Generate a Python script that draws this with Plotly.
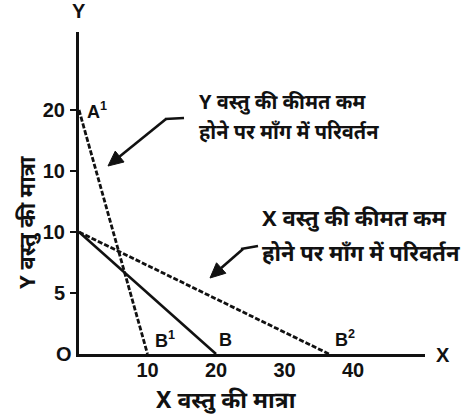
import plotly.graph_objects as go

# Budget lines: (x, y) end points in units of goods X and Y
line_a1_b1 = {"x": [0, 10], "y": [20, 0]}     # Y price falls: A1 -> B1
line_a_b = {"x": [0, 20], "y": [10, 0]}       # original budget line A -> B
line_a_b2 = {"x": [0, 36.5], "y": [10, 0]}    # X price falls: A -> B2

x_tick_vals = [10, 20, 30, 40]
x_tick_text = ["10", "20", "30", "40"]
y_tick_vals = [5, 10, 15, 20]
y_tick_text = ["5", "10", "10", "20"]

title_x = "X वस्तु की मात्रा"
title_y = "Y वस्तु की मात्रा"
note_y = ["Y वस्तु की कीमत कम", "होने पर माँग में परिवर्तन"]
note_x = ["X वस्तु की कीमत कम", "होने पर माँग में परिवर्तन"]

W, H = 470, 419
L, R, T, B = 79, 45, 32, 65
PW, PH = W - L - R, H - T - B

FONT = "Liberation Sans, Arial, Noto Sans, sans-serif"
HIND = "Noto Sans Devanagari, Lohit Devanagari, Mangal, Noto Sans, sans-serif"
INK = "#111111"


def px(x, y):
    """Pixel position in the page -> paper coordinates."""
    return (x - L) / PW, (H - B - y) / PH


fig = go.Figure()
fig.add_trace(go.Scatter(x=line_a1_b1["x"], y=line_a1_b1["y"], mode="lines",
                         line=dict(color=INK, width=2.8, dash="5px,2px")))
fig.add_trace(go.Scatter(x=line_a_b["x"], y=line_a_b["y"], mode="lines",
                         line=dict(color=INK, width=2.6)))
fig.add_trace(go.Scatter(x=line_a_b2["x"], y=line_a_b2["y"], mode="lines",
                         line=dict(color=INK, width=2.8, dash="5px,2px")))

ann = []
bold = dict(family=FONT, size=20, color=INK, weight="bold")

# axis letters and origin
for (xx, yy, t) in [(79, 11, "Y"), (443, 355, "X"), (64, 354, "O")]:
    xp, yp = px(xx, yy)
    ann.append(dict(x=xp, y=yp, xref="paper", yref="paper", text=t,
                    showarrow=False, font=bold, xanchor="center", yanchor="middle"))

# point labels next to the line ends
labels = [
    (line_a1_b1["x"][0], line_a1_b1["y"][0], "A<sup>1</sup>", 18, 0),
    (line_a1_b1["x"][1], line_a1_b1["y"][1], "B<sup>1</sup>", 17, 15),
    (line_a_b["x"][1], line_a_b["y"][1], "B", 9, 14),
    (line_a_b2["x"][1], line_a_b2["y"][1], "B<sup>2</sup>", 16, 16),
]
for (xx, yy, t, dx, dy) in labels:
    ann.append(dict(x=xx, y=yy, xref="x", yref="y", text=t,
                    showarrow=False,
                    font=dict(family=FONT, size=18, color=INK, weight="bold"),
                    xshift=dx, yshift=dy, xanchor="center", yanchor="middle"))

hind_font = lambda s: dict(family=HIND, size=s, color=INK, weight="bold")

# axis titles
xp, yp = px(226, 402)
ann.append(dict(x=xp, y=yp, xref="paper", yref="paper", text=title_x,
                showarrow=False, font=hind_font(23),
                xanchor="center", yanchor="middle"))
xp, yp = px(29, 222)
ann.append(dict(x=xp, y=yp, xref="paper", yref="paper", text=title_y,
                showarrow=False, textangle=-90, font=hind_font(22),
                xanchor="center", yanchor="middle"))

# callout texts, one annotation per line
for (x0, ys, lines, size) in [(197, (104, 133), note_y, 20),
                              (260, (220, 255), note_x, 22)]:
    for yy, t in zip(ys, lines):
        xp, yp = px(x0, yy)
        ann.append(dict(x=xp, y=yp, xref="paper", yref="paper", text=t,
                        showarrow=False, align="left", font=hind_font(size),
                        xanchor="left", yanchor="middle"))

shapes = []


def seg(a, b, w=2.6):
    x0, y0 = px(*a)
    x1, y1 = px(*b)
    shapes.append(dict(type="line", xref="paper", yref="paper", x0=x0, y0=y0,
                       x1=x1, y1=y1, line=dict(color=INK, width=w)))


def head(tip, tail, length=15, half=7):
    """Filled triangular arrow head pointing from tail to tip."""
    dx, dy = tip[0] - tail[0], tip[1] - tail[1]
    n = (dx * dx + dy * dy) ** 0.5
    ux, uy = dx / n, dy / n
    bx, by = tip[0] - ux * length, tip[1] - uy * length
    pts = [tip, (bx - uy * half, by + ux * half), (bx + uy * half, by - ux * half)]
    p = [px(*q) for q in pts]
    path = "M {} {} L {} {} L {} {} Z".format(p[0][0], p[0][1], p[1][0], p[1][1],
                                             p[2][0], p[2][1])
    shapes.append(dict(type="path", xref="paper", yref="paper", path=path,
                       fillcolor=INK, line=dict(color=INK, width=1)))
    return (bx, by)


# callout for the Y-price change
base = head((108, 166), (166, 119))
seg((166, 119), base)
seg((165, 119), (184, 118))

# callout for the X-price change
base = head((210, 278), (238, 253))
seg((243, 249), base)
seg((241, 249), (258, 246))

fig.update_layout(
    width=W, height=H, margin=dict(l=L, r=R, t=T, b=B),
    paper_bgcolor="white", plot_bgcolor="white", showlegend=False,
    annotations=ann, shapes=shapes,
    xaxis=dict(range=[0, PW / 6.85], showgrid=False, zeroline=False,
               showline=True, linecolor=INK, linewidth=3,
               tickvals=x_tick_vals, ticktext=x_tick_text,
               ticks="", tickfont=dict(family=FONT, size=20, color=INK, weight="bold"),
               ticklabelstandoff=-4),
    yaxis=dict(range=[0, PH / 12.2], showgrid=False, zeroline=False,
               showline=True, linecolor=INK, linewidth=3,
               tickvals=y_tick_vals, ticktext=y_tick_text,
               ticks="outside", ticklen=6, tickwidth=2, tickcolor=INK,
               tickfont=dict(family=FONT, size=20, color=INK, weight="bold"),
               ticklabelstandoff=1),
)

fig.write_html("out.html")
